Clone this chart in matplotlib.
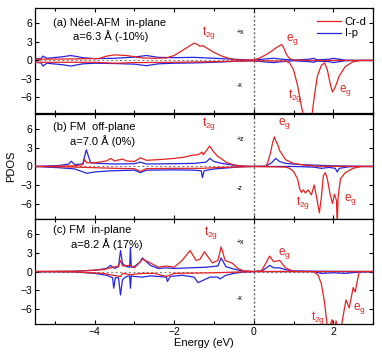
import matplotlib
matplotlib.use("Agg")
import matplotlib.pyplot as plt
from matplotlib.ticker import MultipleLocator

plt.rcParams['font.family'] = ['Liberation Sans', 'DejaVu Sans']

RED = '#e52222'
BLUE = '#2525e0'

# ---------------- panel (a) Neel-AFM in-plane ----------------
a_cr_up_e = [-5.5, -4.5, -3.9, -3.7, -3.5, -3.2, -3.0, -2.8, -2.5, -2.2, -2.0, -1.8, -1.65, -1.5, -1.42, -1.35, -1.28, -1.15, -1.0, -0.8, -0.6, -0.45, -0.2, 0.0, 0.15, 0.3, 0.45, 0.55, 0.65, 0.7, 0.75, 0.82, 0.9, 1.0, 1.5, 3.0]
a_cr_up   = [0.2, 0.25, 0.3, 0.7, 0.9, 0.8, 0.6, 0.4, 0.35, 0.4, 0.8, 1.6, 2.2, 2.8, 2.6, 2.3, 2.4, 1.9, 1.3, 0.7, 0.3, 0.1, 0.05, 0.1, 0.4, 0.9, 1.5, 2.0, 2.4, 2.6, 2.1, 1.0, 0.3, 0.05, 0.0, 0.0]
a_cr_dn_e = [-5.5, -4.0, -3.5, -3.0, -2.0, -1.0, 0.0, 0.8, 0.9, 1.0, 1.1, 1.2, 1.27, 1.45, 1.52, 1.6, 1.7, 1.78, 1.85, 1.93, 1.98, 2.05, 2.15, 2.3, 2.5, 2.7, 3.0]
a_cr_dn   = [-0.3, -0.3, -0.45, -0.35, -0.3, -0.2, -0.05, -0.1, -0.4, -1.5, -4.0, -7.5, -9.5, -9.5, -6.0, -2.5, -0.8, -0.4, -1.5, -4.0, -5.1, -4.3, -2.5, -1.0, -0.2, 0.0, 0.0]
a_ip_up_e = [-5.5, -5.35, -5.3, -5.2, -4.8, -4.6, -4.3, -4.0, -3.5, -3.0, -2.7, -2.4, -2.0, -1.5, -1.0, -0.5, 0.0, 0.3, 0.5, 0.7, 1.0, 1.4, 1.5, 1.6, 1.9, 2.0, 2.1, 2.3, 2.7, 3.0]
a_ip_up   = [0.25, 0.3, 0.7, 0.35, 0.6, 0.8, 0.45, 0.3, 0.35, 0.55, 0.8, 0.5, 0.45, 0.5, 0.35, 0.2, 0.05, 0.25, 0.35, 0.2, 0.05, 0.2, 0.35, 0.1, 0.2, 0.35, 0.25, 0.05, 0.0, 0.0]
a_ip_dn_e = [-5.5, -5.35, -5.3, -5.2, -4.8, -4.6, -4.3, -4.0, -3.5, -3.0, -2.7, -2.4, -2.0, -1.5, -1.0, -0.5, 0.0, 0.3, 0.5, 0.7, 1.0, 1.4, 1.5, 1.6, 1.9, 2.0, 2.1, 2.3, 2.7, 3.0]
a_ip_dn   = [-0.3, -0.4, -0.9, -0.45, -0.7, -0.9, -0.55, -0.45, -0.5, -0.6, -0.85, -0.55, -0.45, -0.4, -0.3, -0.15, -0.05, -0.25, -0.35, -0.2, -0.05, -0.2, -0.3, -0.1, -0.2, -0.35, -0.25, -0.05, 0.0, 0.0]

# ---------------- panel (b) FM off-plane ----------------
b_cr_up_e = [-5.5, -4.5, -4.3, -4.25, -4.2, -4.0, -3.7, -3.6, -3.5, -3.3, -3.2, -3.0, -2.85, -2.7, -2.4, -2.0, -1.75, -1.57, -1.4, -1.3, -1.27, -1.2, -1.11, -1.0, -0.9, -0.8, -0.7, -0.5, -0.3, 0.0, 0.3, 0.35, 0.42, 0.48, 0.52, 0.55, 0.6, 0.65, 0.7, 0.8, 1.0, 1.3, 1.6, 3.0]
b_cr_up   = [0.0, 0.1, 0.3, 1.1, 0.6, 0.6, 0.9, 1.3, 0.9, 1.2, 0.9, 0.8, 1.4, 1.0, 1.1, 1.3, 1.5, 1.8, 1.9, 2.3, 1.9, 2.5, 3.3, 2.3, 1.6, 1.2, 0.7, 0.25, 0.05, 0.0, 0.0, 0.6, 2.2, 4.0, 4.8, 4.2, 3.6, 2.6, 2.1, 1.1, 0.5, 0.2, 0.05, 0.0]
b_cr_dn_e = [-5.5, -4.5, -4.0, -3.5, -3.0, -2.85, -2.7, -2.0, -1.3, -1.0, -0.5, 0.0, 0.8, 0.9, 1.0, 1.1, 1.15, 1.2, 1.25, 1.3, 1.37, 1.45, 1.52, 1.58, 1.65, 1.7, 1.75, 1.8, 1.85, 1.92, 1.98, 2.03, 2.08, 2.1, 2.12, 2.18, 2.3, 2.5, 2.7, 3.0]
b_cr_dn   = [0.0, -0.1, -0.2, -0.3, -0.35, -0.8, -0.35, -0.3, -0.3, -0.2, -0.1, 0.0, -0.1, -0.3, -0.8, -2.0, -3.5, -4.2, -3.8, -4.3, -3.8, -4.6, -3.0, -5.0, -7.5, -5.0, -1.5, -1.0, -2.0, -4.5, -6.0, -4.5, -5.5, -9.5, -5.0, -2.0, -1.0, -0.3, 0.0, 0.0]
b_ip_up_e = [-5.5, -4.9, -4.65, -4.59, -4.5, -4.3, -4.21, -4.1, -3.9, -3.5, -3.0, -2.85, -2.7, -2.0, -1.5, -1.2, -1.1, -1.0, -0.8, -0.5, -0.2, 0.0, 0.3, 0.45, 0.55, 0.65, 0.8, 1.2, 2.0, 3.0]
b_ip_up   = [0.0, 0.15, 0.4, 0.85, 0.3, 0.4, 2.7, 0.6, 0.5, 0.4, 0.45, 0.7, 0.4, 0.45, 0.5, 0.7, 1.3, 0.8, 0.5, 0.2, 0.05, 0.0, 0.05, 0.6, 1.3, 0.8, 0.5, 0.3, 0.1, 0.0]
b_ip_dn_e = [-5.5, -4.9, -4.5, -4.2, -4.0, -3.6, -3.0, -2.85, -2.7, -2.0, -1.5, -1.32, -1.29, -1.25, -1.0, -0.6, -0.3, 0.0, 1.0, 1.5, 1.7, 1.9, 2.05, 2.1, 2.15, 2.4, 3.0]
b_ip_dn   = [0.0, -0.2, -0.4, -1.1, -0.9, -0.7, -0.6, -1.0, -0.6, -0.55, -0.6, -0.7, -1.8, -0.7, -0.4, -0.2, -0.05, 0.0, 0.0, -0.1, -0.3, -0.15, -0.3, -0.9, -0.3, -0.05, 0.0]

# ---------------- panel (c) FM in-plane ----------------
c_cr_up_e = [-5.5, -4.5, -3.8, -3.6, -3.4, -3.35, -3.3, -3.1, -3.0, -2.85, -2.8, -2.6, -2.4, -2.2, -2.0, -1.8, -1.6, -1.45, -1.35, -1.24, -1.04, -0.9, -0.82, -0.72, -0.6, -0.53, -0.4, -0.25, 0.0, 0.19, 0.3, 0.4, 0.5, 0.58, 0.65, 0.8, 1.0, 3.0]
c_cr_up   = [0.0, 0.05, 0.3, 0.6, 0.9, 1.8, 0.9, 1.0, 0.6, 1.6, 2.0, 1.4, 0.7, 0.9, 0.7, 1.8, 3.4, 1.8, 2.0, 3.2, 1.4, 1.8, 4.0, 1.8, 1.5, 1.3, 0.5, 0.1, 0.0, 0.1, 1.3, 2.5, 1.6, 1.7, 1.8, 0.6, 0.0, 0.0]
c_cr_dn_e = [-5.5, -4.5, -3.8, -3.35, -3.3, -3.1, -2.8, -2.5, -2.2, -2.0, -1.5, -1.0, -0.5, 0.0, 1.5, 1.62, 1.7, 1.78, 1.86, 1.93, 1.97, 2.02, 2.07, 2.12, 2.2, 2.28, 2.32, 2.4, 2.5, 2.55, 2.65, 3.0]
c_cr_dn   = [0.0, -0.05, -0.3, -0.8, -0.3, -0.5, -0.3, -0.3, -0.8, -0.3, -0.25, -0.2, -0.1, 0.0, 0.0, -0.6, -2.0, -5.0, -9.5, -8.5, -7.8, -9.5, -8.0, -9.5, -9.0, -6.0, -4.6, -5.9, -2.6, -3.3, 0.0, 0.0]
c_ip_up_e = [-5.5, -4.5, -4.0, -3.7, -3.6, -3.5, -3.4, -3.35, -3.3, -3.2, -3.12, -3.1, -3.08, -3.0, -2.85, -2.8, -2.6, -2.4, -2.2, -2.0, -1.6, -1.2, -0.9, -0.82, -0.7, -0.5, -0.3, 0.0, 0.2, 0.3, 0.4, 0.5, 0.65, 0.8, 1.0, 1.5, 3.0]
c_ip_up   = [0.0, 0.05, 0.2, 0.5, 1.0, 0.5, 0.8, 3.4, 1.3, 0.8, 0.7, 3.9, 0.7, 0.8, 1.6, 2.2, 1.0, 0.5, 0.6, 0.5, 0.6, 0.7, 0.9, 2.2, 0.8, 0.4, 0.1, 0.0, 0.1, 0.5, 1.0, 0.6, 0.6, 0.3, 0.1, 0.05, 0.0]
c_ip_dn_e = [-5.5, -4.5, -4.0, -3.7, -3.55, -3.52, -3.48, -3.4, -3.35, -3.3, -3.2, -3.12, -3.1, -3.08, -3.0, -2.8, -2.6, -2.2, -2.17, -2.1, -1.8, -1.5, -1.4, -1.3, -1.1, -0.9, -0.85, -0.7, -0.5, -0.3, 0.0, 1.5, 1.7, 2.0, 2.3, 2.6, 3.0]
c_ip_dn   = [0.0, -0.05, -0.3, -0.6, -1.0, -2.7, -1.0, -1.0, -3.8, -1.3, -0.8, -0.7, -2.7, -0.7, -0.8, -0.9, -0.7, -0.9, -1.6, -0.8, -0.6, -0.9, -1.8, -1.5, -0.9, -0.9, -1.2, -0.6, -0.3, -0.1, 0.0, 0.0, -0.3, -0.2, -0.3, -0.1, 0.0]

titles = ['(a) Néel-AFM  in-plane', '(b) FM  off-plane', '(c) FM  in-plane']
lattice = ['a=6.3 Å (-10%)', 'a=7.0 Å (0%)', 'a=8.2 Å (17%)']
spins = [('+x', '-x'), ('+z', '-z'), ('+x', '-x')]

panels = [
    (a_cr_up_e, a_cr_up, a_cr_dn_e, a_cr_dn, a_ip_up_e, a_ip_up, a_ip_dn_e, a_ip_dn),
    (b_cr_up_e, b_cr_up, b_cr_dn_e, b_cr_dn, b_ip_up_e, b_ip_up, b_ip_dn_e, b_ip_dn),
    (c_cr_up_e, c_cr_up, c_cr_dn_e, c_cr_dn, c_ip_up_e, c_ip_up, c_ip_dn_e, c_ip_dn),
]

# label positions (x, y) for t2g/eg above and below
orb_pos = [
    [(-1.3, 4.6), (0.8, 3.4), (0.85, -5.7), (2.15, -4.9)],
    [(-1.3, 6.9), (0.62, 7.0), (1.05, -5.9), (2.28, -5.3)],
    [(-1.25, 6.3), (0.6, 3.0), (1.45, -7.4), (2.5, -6.0)],
]
title_pos = [((-5.05, 6.0), (-4.55, 3.9)), ((-5.05, 6.4), (-4.63, 4.1)), ((-5.05, 6.8), (-4.6, 4.5))]
spin_pos = [(4.5, -4.1), (4.4, -3.5), (4.7, -4.3)]

fig = plt.figure(figsize=(3.82, 3.54), dpi=100)
axes = []
bottoms = [0.681, 0.3815, 0.0847]
for k in range(3):
    ax = fig.add_axes([0.0916, bottoms[k], 0.885, 0.2965])
    axes.append(ax)

for k, ax in enumerate(axes):
    cue, cu, cde, cd, iue, iu, ide, idn = panels[k]
    ax.axhline(0, color='#888888', lw=0.8, ls=(0, (2, 2)), zorder=1)
    ax.axvline(0, color='#666666', lw=1.0, ls=(0, (1.5, 1.5)), zorder=1)
    ax.plot(ide, idn, color=BLUE, lw=0.9, zorder=2)
    ax.plot(cde, cd, color=RED, lw=0.9, zorder=3)
    ax.plot(iue, iu, color=BLUE, lw=0.9, zorder=2)
    ax.plot(cue, cu, color=RED, lw=0.9, zorder=3, label='Cr-d' if k == 0 else None)
    if k == 0:
        ax.plot([], [], color=BLUE, lw=0.9, label='I-p')
        ax.legend(loc='upper right', frameon=False, fontsize=8, handlelength=2.2,
                  handletextpad=0.3, labelspacing=0.15, borderaxespad=0.2,
                  bbox_to_anchor=(1.0, 0.98))
    ax.set_xlim(-5.5, 3.0)
    ax.set_ylim(-8.5, 8.5)
    ax.xaxis.set_major_locator(MultipleLocator(2))
    ax.xaxis.set_minor_locator(MultipleLocator(1))
    ax.yaxis.set_major_locator(MultipleLocator(3))
    ax.tick_params(which='both', direction='in', top=True, right=True, labelsize=7.5,
                   length=3, width=0.8, pad=2)
    ax.tick_params(which='minor', length=2)
    ax.set_yticks([-6, -3, 0, 3, 6])
    if k < 2:
        ax.tick_params(labelbottom=False)
    for s in ax.spines.values():
        s.set_linewidth(0.9)

    (tx, ty), (lx, ly) = title_pos[k]
    ax.text(tx, ty, titles[k], fontsize=8, va='center', ha='left')
    ax.text(lx, ly, lattice[k], fontsize=8, va='center', ha='left')

    p = orb_pos[k]
    ax.text(p[0][0], p[0][1], r'$\mathregular{t_{2g}}$', color=RED, fontsize=8.5, va='center')
    ax.text(p[1][0], p[1][1], r'$\mathregular{e_{g}}$', color=RED, fontsize=8.5, va='center')
    ax.text(p[2][0], p[2][1], r'$\mathregular{t_{2g}}$', color=RED, fontsize=8.5, va='center')
    ax.text(p[3][0], p[3][1], r'$\mathregular{e_{g}}$', color=RED, fontsize=8.5, va='center')

    up, dn = spins[k]
    ax.text(-0.42, spin_pos[k][0], up, fontsize=5, va='center')
    ax.text(-0.42, spin_pos[k][1], dn, fontsize=5, va='center')

axes[1].set_ylabel('PDOS', fontsize=8, labelpad=3)
axes[2].set_xlabel('Energy (eV)', fontsize=8, labelpad=1)

fig.savefig('out.png', dpi=100)
